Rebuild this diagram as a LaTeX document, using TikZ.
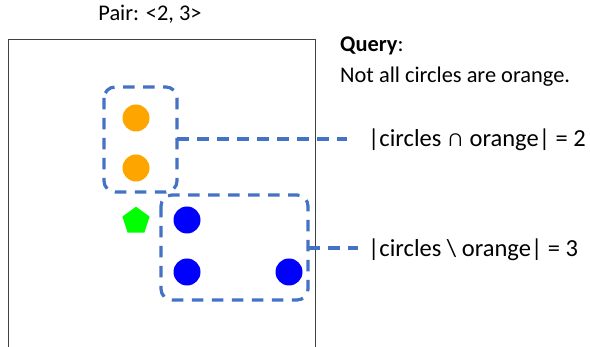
\documentclass[tikz,border=0pt]{standalone}
\usepackage{fontspec}
\setmainfont{Carlito}
\usetikzlibrary{shapes.geometric}
\definecolor{dashblue}{HTML}{4472C4}
\definecolor{orng}{HTML}{FFA500}
\definecolor{grn}{HTML}{00FF00}
\definecolor{blu}{HTML}{0000FF}
\begin{document}
\begin{tikzpicture}[x=1pt,y=-1pt,
  dot/.style={circle,fill=#1,minimum size=27pt,inner sep=0pt},
  grp/.style={draw=dashblue,line width=3.2pt,dash pattern=on 11.5pt off 8.5pt,rounded corners=11pt},
  conn/.style={draw=dashblue,line width=3.2pt,dash pattern=on 11.5pt off 8.5pt},
  lbl/.style={anchor=base west,inner sep=0pt,font=\fontsize{24.5}{28}\selectfont},
  qry/.style={anchor=base west,inner sep=0pt,font=\fontsize{22.4}{26}\selectfont}]
\useasboundingbox (0,0) rectangle (590,347);
\draw[line width=1pt,black!75] (8,347) -- (8,40) -- (315,40) -- (315,347);
\node[anchor=base,inner sep=0pt,font=\fontsize{22.4}{26}\selectfont] (pair) at (150,21) {Pair: <2, 3>};
\node[dot=orng] (o1) at (136,118) {};
\node[dot=orng] (o2) at (136,168) {};
\node[regular polygon,regular polygon sides=5,fill=grn,minimum size=28.6pt,inner sep=0pt] (g) at (136,221) {};
\node[dot=blu] (b1) at (187,220) {};
\node[dot=blu] (b2) at (187,272) {};
\node[dot=blu] (b3) at (289,272) {};
\draw[grp] (104,87) rectangle (177,192);
\draw[grp] (161,195) rectangle (308,300);
\coordinate (c1) at (177,139);
\coordinate (c2) at (308,248);
\node[lbl] (l1) at (368,147) {|circles ∩ orange| = 2};
\node[lbl] (l2) at (368,257) {|circles \textbackslash\ orange| = 3};
\draw[conn] (c1) -- (347,139);
\draw[conn] (c2) -- (358,248);
\node[qry] (q1) at (340,52) {\textbf{Query}:};
\node[qry] (q2) at (340,83) {Not all circles are orange.};
\end{tikzpicture}
\end{document}
